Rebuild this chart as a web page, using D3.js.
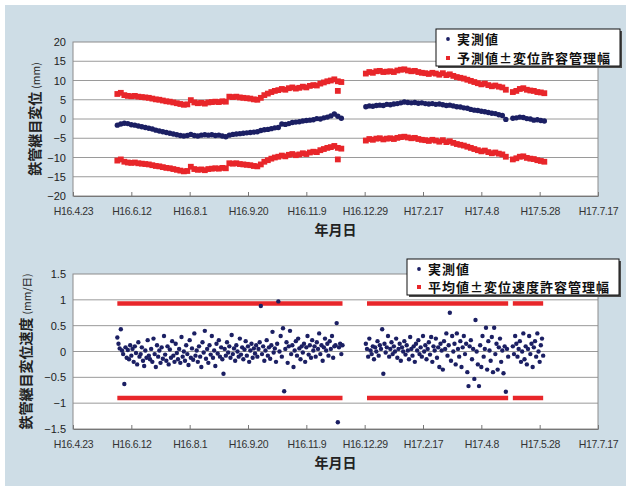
<!DOCTYPE html>
<html>
<head>
<meta charset="utf-8">
<script src="https://cdn.jsdelivr.net/npm/d3@7"></script>
<style>
  body { margin:0; background:#fff; }
  svg text { font-family: "Liberation Sans", Arial, sans-serif; }
  .jp { font-family: "Noto Sans CJK JP", "Noto Sans", sans-serif; }
</style>
</head>
<body>
<svg id="chart" width="626" height="486"></svg>
<script>
// ---- data ----
var tickDates  = ["2004-04-23","2004-06-12","2004-08-01","2004-09-20","2004-11-09","2004-12-29","2005-02-17","2005-04-08","2005-05-28","2005-07-17"]
var tickLabels = ["H16.4.23","H16.6.12","H16.8.1","H16.9.20","H16.11.9","H16.12.29","H17.2.17","H17.4.8","H17.5.28","H17.7.17"]

var dispTicks = [-20,-15,-10,-5,0,5,10,15,20]
var velTicks  = [-1.5,-1,-0.5,0,0.5,1,1.5]

// measurement periods (start of each run of data)
var segStarts = ["2004-05-31","2004-12-30","2005-05-05"]
var dispStep = 3 // days between plotted displacement samples

// 実測値 (mm)
var dispMeasured = [
  [-1.6,-1.3,-1.1,-1.2,-1.5,-1.6,-1.8,-2.0,-2.2,-2.4,-2.6,-2.9,-3.1,-3.3,-3.5,-3.7,-3.9,-4.1,-4.3,-4.4,
   -4.3,-4.0,-4.3,-4.4,-4.2,-4.1,-4.2,-4.1,-4.3,-4.2,-4.4,-4.6,-4.2,-4.0,-3.9,-3.8,-3.7,-3.6,-3.5,-3.4,
   -3.3,-3.0,-2.8,-2.7,-2.5,-2.3,-2.2,-1.3,-1.4,-1.2,-0.9,-0.8,-0.7,-0.5,-0.4,-0.3,-0.2,0.1,0.0,0.3,
   0.5,0.8,1.3,0.7,0.2],
  [3.2,3.4,3.3,3.5,3.6,3.5,3.8,3.7,3.9,4.0,4.2,4.4,4.3,4.2,4.3,4.1,4.2,4.0,3.9,4.0,
   3.8,3.9,3.7,3.5,3.6,3.4,3.2,3.1,2.9,2.8,2.5,2.3,2.2,2.0,1.9,1.7,1.5,1.4,1.1,0.9,-0.1],
  [0.2,0.3,0.5,0.4,0.1,0.0,-0.3,-0.2,-0.4,-0.5]
]
// 予測値＋変位許容管理幅 (mm)
var dispUpper = [
  [6.5,6.8,6.2,6.0,5.9,6.0,5.8,5.7,5.6,5.5,5.3,5.1,5.0,4.8,4.6,4.5,4.3,4.1,3.9,3.7,
   3.8,4.9,4.3,4.1,4.2,4.0,4.3,4.4,4.5,4.4,4.6,4.5,5.8,5.7,5.8,5.6,5.5,5.4,5.3,5.1,
   5.0,5.5,6.2,6.6,7.0,7.3,7.5,7.8,7.6,8.0,8.2,7.9,8.1,8.4,8.2,8.6,8.8,8.7,9.2,9.5,
   9.8,10.0,10.3,9.8,9.6],
  [11.8,12.2,12.0,12.4,12.5,12.2,12.3,12.4,12.2,12.6,12.8,12.9,12.6,12.4,12.5,12.2,12.0,11.9,11.7,12.0,
   11.8,11.5,11.9,11.4,11.6,11.2,10.9,10.7,10.5,10.2,9.9,9.6,9.3,9.0,9.2,8.8,8.5,8.7,8.4,8.2,7.6],
  [7.0,7.3,7.8,8.0,7.6,7.4,7.3,7.0,6.9,6.7]
]
// 予測値－変位許容管理幅 (mm)
var dispLower = [
  [-10.8,-10.5,-11.1,-11.3,-11.4,-11.3,-11.5,-11.6,-11.7,-11.8,-12.0,-12.2,-12.3,-12.5,-12.7,-12.8,-13.0,-13.2,-13.4,-13.6,
   -13.5,-12.4,-13.0,-13.2,-13.1,-13.3,-13.0,-12.9,-12.8,-12.9,-12.7,-12.8,-11.5,-11.6,-11.5,-11.7,-11.8,-11.9,-12.0,-12.2,
   -12.3,-11.8,-11.1,-10.7,-10.3,-10.0,-9.8,-9.5,-9.7,-9.3,-9.1,-9.4,-9.2,-8.9,-9.1,-8.7,-8.5,-8.6,-8.1,-7.8,
   -7.5,-7.3,-7.0,-7.5,-7.7],
  [-5.6,-5.2,-5.4,-5.1,-5.0,-5.3,-5.1,-5.0,-5.2,-4.9,-4.7,-4.6,-4.8,-5.0,-4.9,-5.2,-5.4,-5.5,-5.7,-5.4,
   -5.6,-5.9,-5.5,-6.0,-5.8,-6.2,-6.5,-6.7,-6.9,-7.2,-7.5,-7.8,-8.1,-8.4,-8.2,-8.6,-8.9,-8.7,-9.0,-9.2,-9.8],
  [-10.5,-10.2,-9.8,-9.7,-10.1,-10.3,-10.4,-10.7,-10.9,-11.1]
]
// stray predicted values near the end of the first run
var dispStrayDates = ["2004-12-06","2004-12-06"]
var dispStrayVals  = [7.3,-10.5]

// 実測値 (mm/日), daily
var velocity = [
  [0.27,0.15,0.06,0.43,0.02,-0.05,-0.63,0.08,-0.12,0.03,
   -0.15,0.12,-0.08,0.05,-0.2,0.1,-0.03,-0.25,0.18,-0.1,
   -0.05,0.08,-0.18,-0.28,0.02,-0.12,0.22,-0.08,-0.15,0.05,
   -0.2,0.25,-0.05,-0.3,0.12,-0.1,0.02,-0.22,0.08,-0.14,
   0.3,-0.06,-0.18,0.1,-0.25,0.04,-0.12,0.2,-0.08,-0.2,
   0.15,-0.03,-0.15,0.05,-0.22,0.28,-0.1,0.0,-0.18,0.12,
   -0.05,-0.26,0.22,-0.12,0.06,-0.16,0.35,-0.08,0.02,-0.2,
   0.1,-0.1,-0.3,0.18,-0.02,0.4,-0.14,0.05,-0.22,0.12,
   -0.06,0.3,-0.12,0.02,-0.28,0.15,-0.04,0.22,-0.1,0.08,
   -0.15,-0.43,0.05,-0.08,0.18,-0.02,0.1,-0.12,0.32,-0.05,
   0.06,-0.18,0.12,0.0,-0.1,0.25,-0.06,0.08,-0.15,0.04,
   0.2,-0.08,0.1,-0.2,0.02,0.15,-0.12,0.06,-0.04,0.12,
   -0.1,0.05,0.18,0.88,-0.05,0.1,-0.18,0.02,0.22,-0.08,
   0.08,-0.14,0.12,0.38,-0.02,0.06,-0.2,0.15,0.97,0.0,
   0.3,-0.1,0.45,-0.77,0.05,0.18,-0.22,0.1,0.4,-0.05,
   0.12,-0.3,0.02,0.2,-0.08,0.25,0.06,-0.15,0.1,-0.02,
   0.15,-0.2,0.08,0.3,-0.06,0.12,-0.12,0.22,0.02,0.1,
   -0.1,0.18,0.05,0.35,-0.05,0.12,-0.18,0.08,0.25,0.02,
   0.15,-0.08,0.2,0.05,0.3,-0.12,0.1,0.12,0.55,-1.37,
   0.08,0.15,-0.05,0.12],
  [0.15,0.05,-0.1,0.25,0.02,-0.05,0.1,-0.15,0.08,0.0,
   0.2,-0.08,0.12,0.05,0.43,-0.43,0.15,-0.02,0.08,0.3,
   -0.1,0.05,0.18,-0.05,0.1,0.0,0.25,-0.12,0.05,0.15,
   -0.18,0.08,0.0,0.2,-0.06,0.12,0.02,-0.15,0.28,0.05,
   -0.08,0.1,-0.2,0.15,0.02,0.22,-0.05,0.08,-0.1,0.3,
   0.0,0.12,-0.15,0.05,0.18,-0.06,0.28,-0.2,0.1,0.02,
   0.25,-0.12,0.08,-0.3,0.15,0.02,-0.35,0.2,0.05,0.35,
   -0.08,0.12,0.75,-0.18,0.3,0.0,0.15,-0.25,0.35,0.05,
   -0.1,0.2,-0.3,0.08,0.3,-0.05,0.15,-0.4,-0.67,0.1,
   0.22,-0.15,0.05,-0.53,0.61,0.0,-0.25,-0.67,0.12,-0.3,
   0.3,-0.1,0.05,0.46,-0.35,0.2,0.02,-0.18,0.28,-0.4,
   0.46,-0.05,0.15,-0.35,0.08,0.25,-0.2,0.02,-0.42,0.1,
   -0.78,0.05,-0.1],
  [0.1,-0.05,0.3,0.15,-0.1,0.05,0.2,-0.2,0.0,0.35,
   -0.15,0.1,-0.25,0.05,0.3,-0.05,0.15,-0.3,0.08,0.2,
   -0.1,0.35,0.0,-0.2,0.12,0.25,-0.08]
]
// 平均値±変位速度許容管理幅 (mm/日), one value per run
var velLimitStart = ["2004-05-31","2004-12-31","2005-05-05"]
var velLimitEnd   = ["2004-12-10","2005-05-01","2005-05-31"]
var velUpper = [0.93,0.93,0.93]
var velLower = [-0.9,-0.9,-0.9]

// ---- drawing ----
var NAVY = "#1b1f63", RED = "#e8262a", GRID = "#9a9a9a"
var parse = d3.timeParse("%Y-%m-%d")
var addDays = (d, n) => d3.timeDay.offset(d, n)

var svg = d3.select("#chart")
svg.append("rect").attr("x", 5).attr("y", 5).attr("width", 621).attr("height", 481).attr("fill", "#cedde6")

var W = 525
var x = d3.scaleTime().domain([parse(tickDates[0]), parse(tickDates[tickDates.length - 1])]).range([0, W])

function panel(opt) {
  var g = svg.append("g").attr("transform", `translate(${opt.left},${opt.top})`)
  var y = d3.scaleLinear().domain(opt.domain).range([opt.height, 0])
  g.append("rect").attr("width", W).attr("height", opt.height).attr("fill", "#fff")

  // horizontal grid
  g.selectAll(".grid").data(opt.ticks.slice(1, -1)).enter().append("line")
    .attr("x1", 0).attr("x2", W).attr("y1", d => y(d)).attr("y2", d => y(d))
    .attr("stroke", GRID).attr("stroke-width", 1)

  g.append("rect").attr("width", W).attr("height", opt.height)
    .attr("fill", "none").attr("stroke", "#8c8c8c").attr("stroke-width", 1)

  // y axis labels
  var ya = d3.axisLeft(y).tickValues(opt.ticks).tickSize(0).tickPadding(7).tickFormat(d3.format(""))
  g.append("g").call(ya).call(s => s.select(".domain").remove())
    .selectAll("text").attr("font-size", 11).attr("fill", "#222")
    .attr("font-family", "Liberation Sans, Arial, sans-serif")

  // x axis: small inside ticks
  var xa = d3.axisBottom(x).tickValues(tickDates.map(parse)).tickSizeInner(-4).tickSizeOuter(0)
    .tickPadding(12).tickFormat((d, i) => tickLabels[i])
  var xg = g.append("g").attr("transform", `translate(0,${opt.height})`).call(xa)
  xg.select(".domain").attr("stroke", "#777")
  xg.selectAll(".tick line").attr("stroke", "#777")
  xg.selectAll("text").attr("font-size", 10.5).attr("fill", "#333").attr("letter-spacing", -0.4)
    .attr("font-family", "Liberation Sans, Arial, sans-serif")

  // axis titles
  var yt = svg.append("text").attr("class", "jp")
    .attr("transform", `translate(${opt.ytitleX},${opt.top + opt.height / 2 + opt.ytitleDy}) rotate(-90)`)
    .attr("text-anchor", "middle").attr("fill", "#222")
  yt.append("tspan").attr("font-size", 14).attr("font-weight", "bold").text(opt.ytitle)
  yt.append("tspan").attr("font-size", 10.5).attr("dx", 3).text(opt.yunit)

  svg.append("text").attr("class", "jp").attr("x", opt.left + W / 2).attr("y", opt.top + opt.height + 39)
    .attr("text-anchor", "middle").attr("font-size", 14).attr("font-weight", "bold").attr("fill", "#222")
    .text("年月日")

  g.y = y
  return g
}

function legend(lx, ly, w, h, items) {
  var g = svg.append("g").attr("transform", `translate(${lx},${ly})`)
  g.append("rect").attr("x", 2).attr("y", 2).attr("width", w).attr("height", h).attr("fill", "#4a4a4a")
  g.append("rect").attr("width", w).attr("height", h).attr("fill", "#fff").attr("stroke", "#111").attr("stroke-width", 1)
  items.forEach((it, i) => {
    var cy = 10 + i * (h - 18)
    if (it.shape === "circle") g.append("circle").attr("cx", 12).attr("cy", cy).attr("r", 1.9).attr("fill", it.color)
    else g.append("rect").attr("x", 10).attr("y", cy - 2).attr("width", 4).attr("height", 4).attr("fill", it.color)
    g.append("text").attr("class", "jp").attr("x", 21).attr("y", cy + 5)
      .attr("font-size", 13).attr("font-weight", "bold").attr("letter-spacing", 1).attr("fill", "#111").text(it.label)
  })
}

// -- top: 鉄管継目変位
var topG = panel({ left: 73, top: 42, height: 154, domain: [-20, 20], ticks: dispTicks,
  ytitle: "鉄管継目変位", yunit: "(mm)", ytitleX: 40, ytitleDy: 0 })

function dispPoints(series) {
  var pts = []
  series.forEach((seg, s) => seg.forEach((v, i) => pts.push({ d: addDays(parse(segStarts[s]), i * dispStep), v: v })))
  return pts
}
var redPts = dispPoints(dispUpper).concat(dispPoints(dispLower))
  .concat(dispStrayDates.map((d, i) => ({ d: parse(d), v: dispStrayVals[i] })))
topG.selectAll(".pred").data(redPts).enter().append("rect")
  .attr("x", d => x(d.d) - 2.9).attr("y", d => topG.y(d.v) - 2.9)
  .attr("width", 5.8).attr("height", 5.8).attr("fill", RED)
topG.selectAll(".meas").data(dispPoints(dispMeasured)).enter().append("circle")
  .attr("cx", d => x(d.d)).attr("cy", d => topG.y(d.v)).attr("r", 2.7).attr("fill", NAVY)

legend(436, 29, 184, 37, [
  { shape: "circle", color: NAVY, label: "実測値" },
  { shape: "rect", color: RED, label: "予測値±変位許容管理幅" }
])

// -- bottom: 鉄管継目変位速度
var botG = panel({ left: 73, top: 274, height: 155, domain: [-1.5, 1.5], ticks: velTicks,
  ytitle: "鉄管継目変位速度", yunit: "(mm/日)", ytitleX: 31, ytitleDy: 0 })

velLimitStart.forEach((s, i) => {
  [velUpper[i], velLower[i]].forEach(v => {
    botG.append("line").attr("x1", x(parse(s))).attr("x2", x(parse(velLimitEnd[i])))
      .attr("y1", botG.y(v)).attr("y2", botG.y(v)).attr("stroke", RED).attr("stroke-width", 4.5)
  })
})
var velPts = []
velocity.forEach((seg, s) => seg.forEach((v, i) => velPts.push({ d: addDays(parse(segStarts[s]), i), v: v })))
botG.selectAll(".vel").data(velPts).enter().append("circle")
  .attr("cx", d => x(d.d)).attr("cy", d => botG.y(d.v)).attr("r", 2.2).attr("fill", NAVY)

legend(407, 259, 212, 36, [
  { shape: "circle", color: NAVY, label: "実測値" },
  { shape: "rect", color: RED, label: "平均値±変位速度許容管理幅" }
])
</script>
</body>
</html>
